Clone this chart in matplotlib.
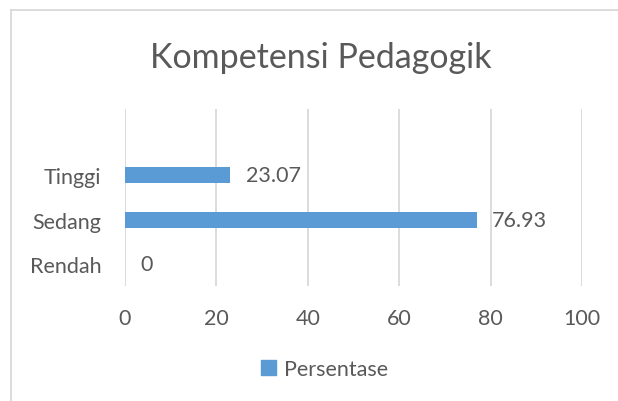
import matplotlib
matplotlib.use("Agg")
import matplotlib.pyplot as plt
from matplotlib.patches import Patch
from matplotlib.lines import Line2D

categories = ["Rendah", "Sedang", "Tinggi"]
values = [0, 76.93, 23.07]
value_labels = ["0", "76.93", "23.07"]
xticks = [0, 20, 40, 60, 80, 100]
title = "Kompetensi Pedagogik"
series_name = "Persentase"

TXT = "#595959"
GRID = "#d9d9d9"
BAR = "#5b9bd5"
FONT = "Lato"

W, H = 618, 402
fig = plt.figure(figsize=(W / 100, H / 100), dpi=100)
fig.patch.set_facecolor("white")

ax = fig.add_axes([125 / W, 1 - 287 / H, (582 - 125) / W, (287 - 110) / H])
ypos = list(range(len(categories)))
bars = ax.barh(ypos, values, height=0.36, color=BAR, zorder=3)
ax.set_xlim(0, 100)
ax.set_ylim(-0.5, len(categories) + 0.5)
ax.set_xticks(xticks)
ax.set_xticklabels([str(t) for t in xticks], fontsize=15.5, color=TXT, family=FONT)
ax.set_yticks(ypos)
ax.set_yticklabels(categories, fontsize=15.5, color=TXT, family=FONT)
ax.tick_params(axis="both", length=0)
ax.tick_params(axis="x", pad=16)
ax.tick_params(axis="y", pad=17)
ax.grid(axis="x", color=GRID, linewidth=1.3, zorder=0)
for s in ax.spines.values():
    s.set_visible(False)

for b, lab in zip(bars, value_labels):
    ax.annotate(lab, (b.get_width(), b.get_y() + b.get_height() / 2),
                xytext=(11, 0), textcoords="offset points",
                va="center", ha="left", fontsize=15.5, color=TXT, family=FONT)

fig.text(321 / W, 1 - 58 / H, title, ha="center", va="center", fontsize=24.5,
         color=TXT, family=FONT)

leg = fig.legend(handles=[Patch(facecolor=BAR, edgecolor=BAR, label=series_name)],
                 loc="center", bbox_to_anchor=(0.525, 1 - 370 / H), frameon=False,
                 prop={"family": FONT, "size": 15.5}, handlelength=0.7,
                 handleheight=0.7, handletextpad=0.4)
for t in leg.get_texts():
    t.set_color(TXT)

# chart border (left and top visible)
fig.add_artist(Line2D([11 / W, 11 / W], [0, 1 - 11 / H], transform=fig.transFigure,
                      color=GRID, linewidth=1.3))
fig.add_artist(Line2D([11 / W, 1], [1 - 11 / H, 1 - 11 / H], transform=fig.transFigure,
                      color=GRID, linewidth=1.3))

fig.savefig("out.png", dpi=100, facecolor="white")
